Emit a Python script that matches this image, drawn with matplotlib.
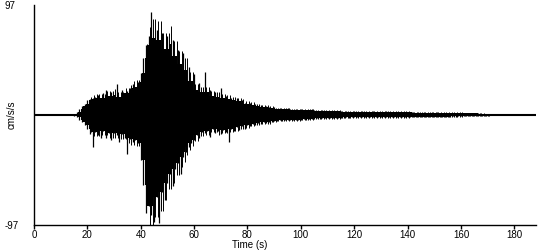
#!/usr/bin/env python3
import numpy as np
import matplotlib as mpl
import matplotlib.pyplot as plt

mpl.rcParams['font.family'] = ['Liberation Sans', 'DejaVu Sans']
mpl.rcParams['font.size'] = 7

# acceleration record, peak values per second (cm/s/s)
t_start = 15
peak_hi = [
    0.5, 3, 5, 8, 10, 13, 14, 15, 16, 18,                 # 15-24
    15, 19, 22, 17, 20, 18, 27, 16, 22, 19,               # 25-34
    21, 24, 27, 25, 29, 37, 50, 62, 70, 91,               # 35-44
    68, 75, 66, 72, 58, 70, 63, 66, 52, 57,               # 45-54
    45, 55, 40, 42, 30, 36, 22, 28, 20, 38,               # 55-64
    20, 22, 17, 20, 16, 24, 15, 17, 14, 15,               # 65-74
    13, 15, 12, 13, 11, 10, 11, 9, 10, 8,                 # 75-84
    9, 7, 8, 7, 6, 7, 5, 6, 5, 5,                         # 85-94
    6, 5, 4.5, 5, 4.5, 5, 4, 4.5, 4, 5,                   # 95-104
    4, 3.8, 3.5, 4, 3.5, 3.8, 3.2, 3.8, 3.5, 3.2,         # 105-114
    3.6, 3, 3.2, 2.8, 3, 3.4, 2.8, 3, 3.2, 2.8,           # 115-124
    3, 2.8, 3.2, 3, 2.6, 3, 2.8, 3.2, 2.8, 2.6,           # 125-134
    3, 2.8, 2.6, 3, 2.6, 2.8, 2.5, 2.4, 2.2, 2.4,         # 135-144
    2.2, 2.5, 2.2, 2.0, 2.4, 2.2, 2.5, 2.2, 2.0, 2.2,     # 145-154
    2.0, 2.2, 1.8, 2.0, 1.8, 2.0, 1.8, 1.6, 1.8, 1.5,     # 155-164
    1.6, 1.4, 1.5, 1.3, 1.2, 1.0, 0.6, 0.3,               # 165-172
]
peak_lo = [
    -0.5, -2, -4, -6, -9, -12, -17, -28, -15, -18,        # 15-24
    -20, -14, -20, -16, -22, -16, -18, -24, -17, -20,     # 25-34
    -34, -21, -24, -22, -25, -40, -62, -86, -80, -88,     # 35-44
    -94, -72, -95, -68, -75, -60, -52, -63, -48, -42,     # 45-54
    -52, -37, -33, -28, -25, -22, -18, -20, -15, -16,     # 55-64
    -14, -19, -12, -16, -14, -17, -13, -15, -24, -12,     # 65-74
    -14, -11, -13, -10, -12, -9, -10, -8, -9, -7,         # 75-84
    -8, -6, -7, -6, -6, -5, -5, -4.5, -5, -4.5,           # 85-94
    -4.5, -4, -4.5, -4, -4.5, -4, -3.5, -4, -3.5, -3.8,   # 95-104
    -3.2, -3, -3.2, -3, -2.8, -3, -2.8, -3, -2.6, -3,     # 105-114
    -2.6, -2.4, -2.2, -2.4, -2, -2.2, -2, -2.2, -2, -2.2, # 115-124
    -2, -2.2, -2, -2.1, -2, -2.2, -1.9, -2, -2.1, -1.9,   # 125-134
    -2, -1.9, -2, -1.8, -2, -1.8, -1.9, -1.7, -1.8, -1.6, # 135-144
    -1.7, -1.8, -1.6, -1.7, -1.5, -1.7, -1.6, -1.5, -1.6, -1.5, # 145-154
    -1.4, -1.5, -1.3, -1.4, -1.3, -1.2, -1.1, -1.0, -1.1, -1.0, # 155-164
    -0.9, -1.0, -0.8, -0.8, -0.7, -0.6, -0.4, -0.2,       # 165-172
]
y_max = 97
t_end = 188
x_ticks = [0, 20, 40, 60, 80, 100, 120, 140, 160, 180]

t = t_start + np.arange(len(peak_hi))
hi = np.array(peak_hi)
lo = np.array(peak_lo)

# dense core of the trace: smallest peak among neighbouring seconds
core_hi = np.minimum(hi, np.minimum(np.roll(hi, 1), np.roll(hi, -1)))
core_lo = np.maximum(lo, np.maximum(np.roll(lo, 1), np.roll(lo, -1)))

fig = plt.figure(figsize=(5.5, 2.5), dpi=100)
ax = fig.add_axes([34/550, 25/250, 501.7/550, 220/250])

ax.plot([0, t_end], [0, 0], color='black', lw=1.5, solid_capstyle='butt')
ax.fill_between(t, core_lo, core_hi, step='mid', color='black', lw=0)
ax.vlines(t, lo, hi, color='black', lw=0.9)
ax.vlines(t + 0.5, core_lo * 1.25, core_hi * 1.25, color='black', lw=0.7)

ax.set_xlim(0, t_end)
ax.set_ylim(-y_max, y_max)

for side in ('top', 'right'):
    ax.spines[side].set_visible(False)
for side in ('left', 'bottom'):
    ax.spines[side].set_linewidth(1.0)

ax.set_xticks(x_ticks)
ax.tick_params(axis='x', direction='out', length=3, width=1, pad=0.5)
ax.set_yticks([-y_max, y_max], labels=[str(-y_max), str(y_max)])
ax.tick_params(axis='y', length=0, pad=21)
for lbl in ax.get_yticklabels():
    lbl.set_horizontalalignment('left')

ax.set_ylabel('cm/s/s')
ax.yaxis.set_label_coords(-0.044, 0.5)
ax.yaxis.label.set_verticalalignment('center')

# put the time label just under the tick labels
fig.canvas.draw()
tick_bottom = min(l.get_window_extent().y0 for l in ax.get_xticklabels())
fig.text(250/550, (tick_bottom - 0.5) / 250, 'Time (s)', ha='center', va='top')

fig.savefig('out.png', dpi=100)
